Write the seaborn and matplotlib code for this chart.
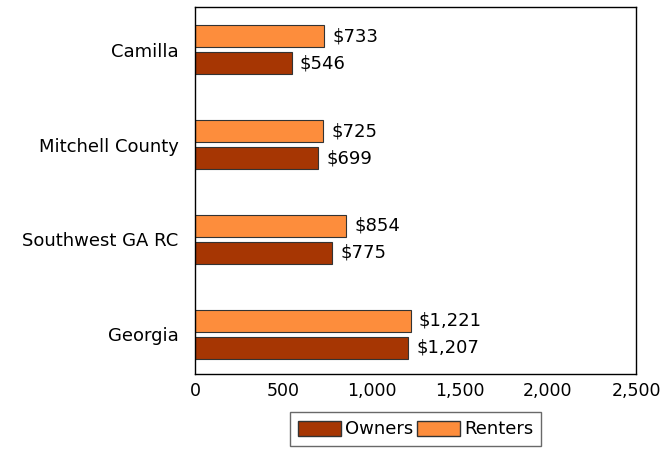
import numpy as np
import pandas as pd
import seaborn as sns
import matplotlib.pyplot as plt
from matplotlib.patches import Patch

categories = ["Camilla", "Mitchell County", "Southwest GA RC", "Georgia"]
owners = [546, 699, 775, 1207]
renters = [733, 725, 854, 1221]

owner_color = "#A63603"
renter_color = "#FD8D3C"

df = pd.DataFrame({
    "place": categories * 2,
    "cost": renters + owners,
    "tenure": ["Renters"] * 4 + ["Owners"] * 4,
})

sns.set_style("white")
plt.rcParams["font.family"] = ["DejaVu Sans"]
plt.rcParams["text.color"] = "black"
plt.rcParams["xtick.color"] = "black"
plt.rcParams["ytick.color"] = "black"

fig = plt.figure(figsize=(6.64, 4.49), dpi=100)
ax = fig.add_axes([0.294, 0.167, 0.664, 0.817])

sns.barplot(data=df, x="cost", y="place", hue="tenure", orient="h",
            order=categories, hue_order=["Renters", "Owners"],
            palette={"Renters": renter_color, "Owners": owner_color},
            saturation=1, width=0.568, gap=0.18, edgecolor="#333333", linewidth=0.8,
            legend=False, ax=ax)

for cont in ax.containers:
    vals = cont.datavalues
    ax.bar_label(cont, labels=[f"\\${v:,.0f}" for v in vals], padding=6,
                 fontsize=13, color="black")

ax.set_xlim(0, 2500)
ax.set_ylim(3.42, -0.45)
ax.set_xticks([0, 500, 1000, 1500, 2000, 2500])
ax.set_xticklabels(["0", "500", "1,000", "1,500", "2,000", "2,500"])
ax.tick_params(axis="x", labelsize=12.5, length=0, pad=6)
ax.tick_params(axis="y", labelsize=13, length=0, pad=12)
ax.set_xlabel("")
ax.set_ylabel("")
for s in ax.spines.values():
    s.set_visible(True)
    s.set_color("black")
    s.set_linewidth(1)

handles = [Patch(facecolor=owner_color, edgecolor="#333333", label="Owners"),
           Patch(facecolor=renter_color, edgecolor="#333333", label="Renters")]
fig.legend(handles=handles, loc="upper center", bbox_to_anchor=(0.626, 0.082),
           ncol=2, fontsize=13, frameon=True, fancybox=False, edgecolor="#444444",
           handlelength=2.4, handleheight=0.9, handletextpad=0.2, columnspacing=0.2,
           borderpad=0.45, borderaxespad=0)

fig.savefig("out.png", dpi=100)
